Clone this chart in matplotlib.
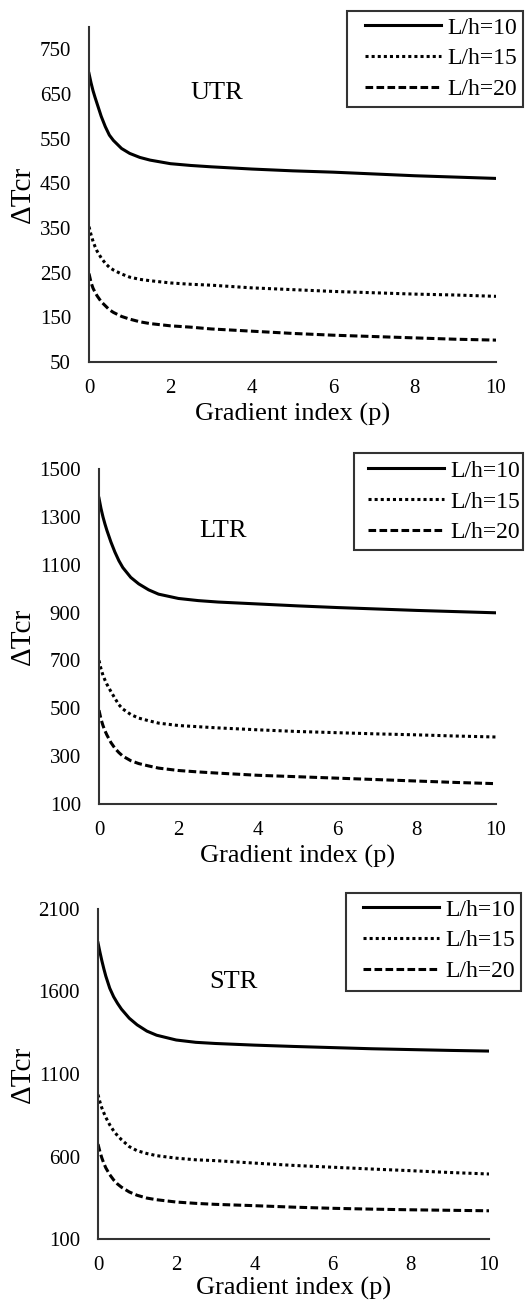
import numpy as np
import matplotlib
matplotlib.use('Agg')
import matplotlib.pyplot as plt
from matplotlib.patches import Rectangle

plt.rcParams['font.family'] = ['Liberation Serif', 'DejaVu Serif']

# gradient index values
p = [0, 0.05, 0.1, 0.15, 0.2, 0.3, 0.4, 0.5, 0.6, 0.8, 1, 1.25, 1.5, 2, 2.5, 3, 4, 5, 6, 7, 8, 9, 10]

# UTR
utr_10 = [696, 675, 657, 642, 628, 600, 577, 558, 546, 528, 517, 508, 502, 494, 490, 487, 482, 478, 475, 471, 467, 464, 461]
utr_15 = [353, 335, 320, 308, 298, 283, 271, 262, 256, 247, 240, 235, 232, 227, 224, 222, 216, 212, 208, 205, 202, 200, 197]
utr_20 = [248, 228, 215, 206, 198, 185, 176, 167, 161, 152, 146, 140, 136, 131, 128, 124, 119, 114, 110, 107, 104, 101, 99]

# LTR
ltr_10 = [1378, 1335, 1300, 1270, 1243, 1195, 1153, 1117, 1088, 1047, 1020, 995, 977, 959, 950, 944, 936, 928, 921, 915, 909, 904, 899]
ltr_15 = [700, 665, 638, 618, 600, 570, 542, 515, 497, 474, 459, 448, 438, 428, 423, 418, 410, 403, 398, 393, 389, 384, 380]
ltr_20 = [492, 455, 428, 406, 388, 357, 333, 315, 300, 281, 269, 259, 250, 240, 234, 229, 220, 214, 208, 202, 196, 190, 185]

# STR
str_10 = [1895, 1838, 1785, 1737, 1693, 1620, 1568, 1528, 1493, 1438, 1398, 1360, 1335, 1306, 1292, 1285, 1275, 1267, 1260, 1253, 1248, 1243, 1239]
str_15 = [975, 930, 893, 864, 837, 792, 755, 726, 702, 660, 635, 618, 605, 590, 580, 575, 560, 546, 535, 524, 514, 503, 494]
str_20 = [675, 628, 590, 558, 531, 490, 458, 433, 414, 385, 365, 348, 338, 324, 316, 310, 302, 293, 286, 281, 277, 274, 271]

labels = ['L/h=10', 'L/h=15', 'L/h=20']
styles = ['-', (0, (1, 1)), (0, (2.5, 1.1))]

W, H = 526, 1301
fig = plt.figure(figsize=(W / 100, H / 100), dpi=100)

def fx(x):
    return x / W

def fy(y):
    return 1 - y / H

panels = [
    # name, series, ylim, yticks, axes box (px: l, r, t, b), title pos,
    # legend box (l, r, t, b), legend anchor, xlabel pad
    ('UTR', [utr_10, utr_15, utr_20], (50, 800), np.arange(50, 751, 100),
     (89, 496, 27, 362), (217, 93), (347, 523, 11, 107), (365, 17), 3),
    ('LTR', [ltr_10, ltr_15, ltr_20], (100, 1500), np.arange(100, 1501, 200),
     (99, 496, 469, 804), (223, 531), (354, 523, 453, 550), (368, 460), 3),
    ('STR', [str_10, str_15, str_20], (100, 2100), np.arange(100, 2101, 500),
     (98, 489, 909, 1239), (233, 982), (346, 521, 893, 991), (363, 899), 1),
]

for name, series, ylim, yticks, box, tpos, lbox, lanchor, xpad in panels:
    l, r, t, b = box
    ax = fig.add_axes([fx(l), fy(b), (r - l) / W, (b - t) / H])
    for ys, ls, lab in zip(series, styles, labels):
        ax.plot(p, ys, color='black', linestyle=ls, linewidth=2.2, label=lab)
    ax.set_xlim(0, 10)
    ax.set_ylim(*ylim)
    ax.set_xticks([0, 2, 4, 6, 8, 10])
    ax.set_yticks(yticks)
    ax.tick_params(length=0, labelsize=15)
    ax.tick_params(axis='x', pad=12.5)
    ax.tick_params(axis='y', pad=13)
    for s in ['top', 'right']:
        ax.spines[s].set_visible(False)
    for s in ['left', 'bottom']:
        ax.spines[s].set_color('#333333')
        ax.spines[s].set_linewidth(1.5)
    ax.set_xlabel('Gradient index (p)', fontsize=19, labelpad=xpad)
    ax.set_ylabel('ΔTcr', fontsize=21, va='center', ha='center')
    ax.yaxis.set_label_coords(fx(23), fy((t + b) / 2), transform=fig.transFigure)
    fig.text(fx(tpos[0]), fy(tpos[1]), name, fontsize=19, ha='center', va='center')

    # legend without frame, box drawn separately
    ax.legend(loc='upper left', bbox_to_anchor=(fx(lanchor[0]), fy(lanchor[1])),
              bbox_transform=fig.transFigure, fontsize=17, frameon=False,
              handlelength=3.2, handletextpad=0.3, labelspacing=0.4,
              borderpad=0, borderaxespad=0)
    ll, lr, lt, lb = lbox
    fig.patches.append(Rectangle((fx(ll), fy(lb)), (lr - ll) / W, (lb - lt) / H,
                                 transform=fig.transFigure, fill=False,
                                 edgecolor='#333333', linewidth=1.5))

fig.savefig('out.png', dpi=100)
